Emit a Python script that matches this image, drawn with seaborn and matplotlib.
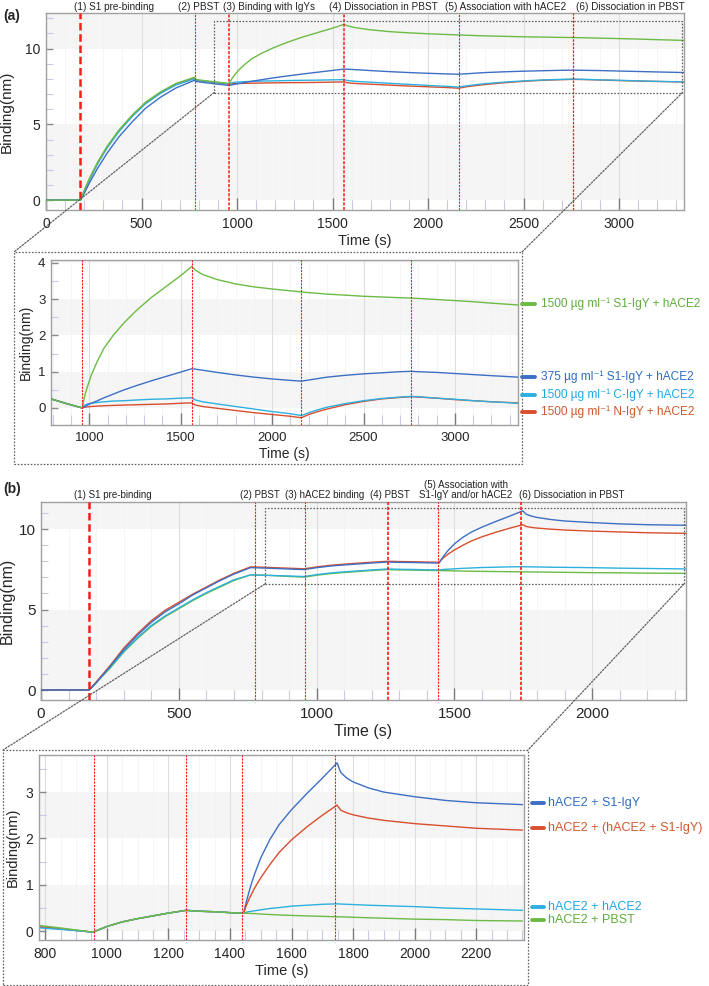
import numpy as np
import pandas as pd
import seaborn as sns
import matplotlib
matplotlib.use("Agg")
import matplotlib.pyplot as plt
from matplotlib.patches import Rectangle, ConnectionPatch
from matplotlib.lines import Line2D
from matplotlib.ticker import MultipleLocator

sns.set_theme(style="white")
plt.rcParams['font.family'] = ['Liberation Sans', 'DejaVu Sans']
NARROW = ['Liberation Sans Narrow', 'Liberation Sans', 'DejaVu Sans']

# ---------------- DATA : panel (a) ----------------
a_series = ["1500 µg ml⁻¹ S1-IgY + hACE2", "375 µg ml⁻¹ S1-IgY + hACE2",
            "1500 µg ml⁻¹ C-IgY + hACE2", "1500 µg ml⁻¹ N-IgY + hACE2"]
a_events = [180, 780, 960, 1560, 2160, 2760]
a_phase_labels = ["(1) S1 pre-binding", "(2) PBST", "(3) Binding with IgYs",
                  "(4) Dissociation in PBST", "(5) Association with hACE2",
                  "(6) Dissociation in PBST"]
a_phase_x = [357, 797, 1168, 1765, 2406, 3060]

# S1 pre-binding step (main plot only)
ta_pre = [0, 180, 200, 230, 270, 320, 380, 450, 520, 600, 680, 775]
a_pre_s1 = [0, 0, 0.65, 1.5, 2.5, 3.55, 4.6, 5.6, 6.45, 7.15, 7.7, 8.1]
a_pre_375 = [0, 0, 0.45, 1.2, 2.1, 3.1, 4.15, 5.15, 6.05, 6.8, 7.4, 7.9]
a_pre_c = [0, 0, 0.55, 1.4, 2.4, 3.45, 4.5, 5.5, 6.35, 7.05, 7.6, 8.0]
a_pre_n = [0, 0, 0.6, 1.45, 2.45, 3.5, 4.55, 5.55, 6.4, 7.1, 7.65, 8.05]

# aligned curves (inset), time points
ta_in = [790, 875, 960, 975, 990, 1010, 1040, 1080, 1130, 1190, 1260, 1340, 1420,
         1500, 1560, 1580, 1620, 1700, 1800, 1900, 2000, 2100, 2160, 2200, 2250,
         2300, 2400, 2500, 2600, 2700, 2760, 2800, 2900, 3000, 3100, 3200, 3345]
a_in_s1 = [0.25, 0.12, 0.0, 0.35, 0.6, 0.9, 1.25, 1.65, 2.0, 2.35, 2.7, 3.05, 3.35,
           3.65, 3.9, 3.8, 3.68, 3.54, 3.42, 3.34, 3.28, 3.23, 3.2, 3.18, 3.16,
           3.14, 3.11, 3.08, 3.06, 3.04, 3.03, 3.02, 2.99, 2.96, 2.93, 2.89, 2.84]
a_in_375 = [0.25, 0.12, 0.0, 0.04, 0.08, 0.13, 0.19, 0.28, 0.38, 0.5, 0.62, 0.75, 0.87,
            0.99, 1.08, 1.07, 1.04, 0.98, 0.91, 0.85, 0.8, 0.76, 0.74, 0.77, 0.81,
            0.85, 0.9, 0.94, 0.97, 1.0, 1.01, 1.0, 0.98, 0.95, 0.92, 0.89, 0.85]
a_in_c = [0.25, 0.12, 0.0, 0.08, 0.11, 0.13, 0.15, 0.17, 0.19, 0.2, 0.22, 0.24, 0.25,
          0.27, 0.28, 0.22, 0.17, 0.11, 0.04, -0.03, -0.1, -0.16, -0.21, -0.13, -0.05,
          0.02, 0.12, 0.2, 0.26, 0.3, 0.32, 0.31, 0.27, 0.24, 0.2, 0.17, 0.13]
a_in_n = [0.25, 0.12, 0.0, 0.02, 0.03, 0.04, 0.05, 0.06, 0.07, 0.08, 0.09, 0.1, 0.11,
          0.13, 0.14, 0.08, 0.04, -0.01, -0.07, -0.13, -0.18, -0.23, -0.27, -0.18, -0.1,
          -0.03, 0.09, 0.18, 0.25, 0.29, 0.31, 0.3, 0.27, 0.23, 0.2, 0.17, 0.14]
# level of each curve at the start of step (3) in the main plot
a_baseline = [7.7, 7.57, 7.67, 7.66]

# ---------------- DATA : panel (b) ----------------
b_series = ["hACE2 + S1-IgY", "hACE2 + (hACE2 + S1-IgY)", "hACE2 + hACE2", "hACE2 + PBST"]
b_events = [175, 778, 957, 1258, 1440, 1742]
b_phase_labels = ["(1) S1 pre-binding", "(2) PBST", "(3) hACE2 binding", "(4) PBST",
                  "(5) Association with\nS1-IgY and/or hACE2", "(6) Dissociation in PBST"]
b_phase_x = [261, 794, 1030, 1266, 1541, 1925]

tb_pre = [0, 175, 200, 250, 300, 350, 400, 450, 500, 550, 600, 650, 700, 760]
b_pre_s1 = [0, 0, 0.45, 1.45, 2.5, 3.4, 4.2, 4.85, 5.35, 5.9, 6.35, 6.8, 7.2, 7.6]
b_pre_mix = [0, 0, 0.5, 1.5, 2.6, 3.5, 4.3, 4.95, 5.45, 5.95, 6.4, 6.85, 7.25, 7.65]
b_pre_ace = [0, 0, 0.45, 1.4, 2.4, 3.25, 4.0, 4.6, 5.1, 5.6, 6.05, 6.45, 6.85, 7.15]
b_pre_pbst = [0, 0, 0.45, 1.35, 2.35, 3.2, 3.95, 4.55, 5.05, 5.55, 6.0, 6.4, 6.8, 7.15]

tb_in = [785, 850, 955, 1000, 1050, 1100, 1150, 1200, 1258, 1300, 1350, 1400, 1445,
         1450, 1460, 1470, 1480, 1500, 1530, 1560, 1600, 1650, 1700, 1748, 1760, 1780,
         1800, 1850, 1900, 2000, 2100, 2200, 2350]
b_in_s1 = [0.09, 0.05, -0.02, 0.1, 0.2, 0.27, 0.33, 0.39, 0.45, 0.43, 0.42, 0.4, 0.39,
           0.55, 0.8, 1.03, 1.23, 1.58, 1.98, 2.3, 2.62, 2.97, 3.3, 3.63, 3.42, 3.3,
           3.22, 3.09, 3.0, 2.9, 2.82, 2.77, 2.73]
b_in_mix = [0.09, 0.05, -0.02, 0.1, 0.2, 0.27, 0.33, 0.39, 0.45, 0.43, 0.42, 0.4, 0.39,
            0.5, 0.66, 0.8, 0.93, 1.15, 1.44, 1.7, 1.97, 2.25, 2.5, 2.72, 2.61, 2.55,
            2.51, 2.44, 2.39, 2.32, 2.27, 2.22, 2.18]
b_in_ace = [0.07, 0.04, -0.02, 0.1, 0.2, 0.27, 0.33, 0.39, 0.45, 0.43, 0.42, 0.4, 0.39,
            0.4, 0.42, 0.43, 0.44, 0.46, 0.49, 0.51, 0.54, 0.56, 0.58, 0.59, 0.585, 0.58,
            0.575, 0.56, 0.55, 0.53, 0.5, 0.48, 0.45]
b_in_pbst = [0.12, 0.07, -0.02, 0.1, 0.2, 0.27, 0.33, 0.39, 0.45, 0.43, 0.42, 0.4, 0.39,
             0.388, 0.385, 0.382, 0.38, 0.37, 0.36, 0.35, 0.34, 0.33, 0.32, 0.31, 0.31,
             0.305, 0.3, 0.29, 0.28, 0.26, 0.25, 0.23, 0.22]
b_baseline = [7.5, 7.55, 7.07, 7.03]

# ---------------- styling ----------------
a_colors = ["#6cbb45", "#3d6fc4", "#2db0df", "#d84e2e"]
a_text_colors = ["#5fae3c", "#2f6cc0", "#1fa8e3", "#cf5a2e"]
b_colors = ["#3d6fc4", "#d84e2e", "#2db0df", "#6cbb45"]
b_text_colors = ["#2f6cc0", "#cf5a2e", "#1fa8e3", "#5fae3c"]
DOT = (0, (1.3, 1.3))
GREY = "#606060"

W, H = 709, 986
fig = plt.figure(figsize=(W / 100, H / 100), dpi=100)


def add_ax(l, r, t, b):
    return fig.add_axes([l / W, 1 - b / H, (r - l) / W, (b - t) / H])


def fxy(x, y):
    return (x / W, 1 - y / H)


def long_df(t_lists, v_lists, names):
    rows = []
    for t, v, n in zip(t_lists, v_lists, names):
        rows.append(pd.DataFrame({"t": t, "v": v, "series": n}))
    return pd.concat(rows, ignore_index=True)


def style_ax(ax, xlim, ylim, xmaj, xmin, ymaj, ymin, band, fs):
    ax.set_xlim(*xlim)
    ax.set_ylim(*ylim)
    ax.set_facecolor("white")
    k = 0
    y0 = 0
    while y0 < ylim[1]:
        if k % 2 == 0:
            ax.axhspan(y0, min(y0 + band, ylim[1] + 1), color="#f5f5f5", zorder=0, lw=0)
        y0 += band
        k += 1
    ax.xaxis.set_major_locator(MultipleLocator(xmaj))
    ax.xaxis.set_minor_locator(MultipleLocator(xmin))
    ax.yaxis.set_major_locator(MultipleLocator(ymaj))
    ax.yaxis.set_minor_locator(MultipleLocator(ymin))
    ax.grid(True, which="major", axis="x", color="#dedede", lw=0.8, zorder=0.5)
    ax.grid(True, which="minor", axis="x", color="#f1f1f1", lw=0.5, zorder=0.5)
    ax.grid(False, axis="y")
    ax.tick_params(axis="x", which="major", direction="in", length=9, width=1.0,
                   color="#7a7a7a", labelsize=fs, pad=5, bottom=True)
    ax.tick_params(axis="x", which="minor", direction="in", length=7, width=0.8,
                   color="#c9c9e8", bottom=True)
    ax.tick_params(axis="y", which="major", direction="in", length=5, width=1.0,
                   color="#8a8a8a", labelsize=fs, pad=4, left=True)
    ax.tick_params(axis="y", which="minor", direction="in", length=5, width=0.8,
                   color="#c9c9e8", left=True)
    for s in ax.spines.values():
        s.set_color("#a0a0a0")
        s.set_linewidth(1.0)
    ax.set_axisbelow(True)


def draw_lines(ax, df, palette, order):
    sns.lineplot(data=df, x="t", y="v", hue="series", hue_order=order,
                 palette=palette, estimator=None, sort=False, legend=False,
                 lw=1.0, ax=ax, zorder=3)


def events(ax, xs, widths):
    for x, lw in zip(xs, widths):
        ls = (0, (3, 1.5)) if lw > 1.5 else (0, (2, 1))
        ax.axvline(x, color="#ff1a1a", ls=ls, lw=lw, zorder=4)


def legend_block(names, cols, tcols, ys, x0, x1, xt, fs):
    for name, col, tcol, y in zip(names, cols, tcols, ys):
        fig.add_artist(Line2D([x0 / W, x1 / W], [1 - y / H] * 2, color=col, lw=2.8,
                              transform=fig.transFigure))
        fig.text(xt / W, 1 - y / H, name, color=tcol, fontsize=fs, va="center",
                 ha="left")


# ---------------- panel (a) main ----------------
axA = add_ax(46, 684, 13, 210)
style_ax(axA, (0, 3340), (-0.65, 12.35), 500, 100, 5, 1, 5, 10)
a_main_vals = []
for pre, ins, base in zip([a_pre_s1, a_pre_375, a_pre_c, a_pre_n],
                          [a_in_s1, a_in_375, a_in_c, a_in_n], a_baseline):
    a_main_vals.append(list(pre) + [v + base for v in ins])
dfA = long_df([ta_pre + ta_in] * 4, a_main_vals, a_series)
draw_lines(axA, dfA, dict(zip(a_series, a_colors)), a_series[::-1])
events(axA, a_events, [1.8, 0.8, 1.1, 1.1, 0.8, 0.9])
axA.set_xlabel("Time (s)", fontsize=10.5, labelpad=2)
axA.set_ylabel("Binding(nm)", fontsize=11, labelpad=8)
for lab, x in zip(a_phase_labels, a_phase_x):
    axA.text(x, 1.006, lab, transform=axA.get_xaxis_transform(), ha="center",
             va="bottom", fontsize=7.2, family=NARROW, color="#222222")
axA.add_patch(Rectangle((880, 7.1), 3332 - 880, 11.8 - 7.1, fill=False, ls=DOT,
                        lw=0.9, ec=GREY, zorder=5))
fig.text(3 / W, 1 - 16 / H, "(a)", fontsize=10, fontweight="bold", va="center", ha="left")

# ---------------- panel (a) inset ----------------
axAi = add_ax(51, 518, 260, 425)
style_ax(axAi, (790, 3345), (-0.47, 4.08), 500, 100, 1, 0.5, 1, 9.5)
dfAi = long_df([ta_in] * 4, [a_in_s1, a_in_375, a_in_c, a_in_n], a_series)
draw_lines(axAi, dfAi, dict(zip(a_series, a_colors)), a_series[::-1])
events(axAi, a_events[2:], [0.8] * 4)
axAi.set_xlabel("Time (s)", fontsize=10, labelpad=2)
axAi.set_ylabel("Binding(nm)", fontsize=10, labelpad=4)
fig.add_artist(Rectangle(fxy(14, 464), (522 - 14) / W, (464 - 252) / H,
                         transform=fig.transFigure, fill=False, ls=DOT, lw=0.9, ec=GREY))
for xa, xb in [(880, 14), (3332, 522)]:
    fig.add_artist(ConnectionPatch(xyA=(xa, 7.1), coordsA=axA.transData,
                                   xyB=fxy(xb, 252), coordsB=fig.transFigure,
                                   ls=DOT, lw=0.9, color=GREY))
legend_block(a_series, a_colors, a_text_colors, [304, 377, 395, 412], 522, 535, 541, 8.6)

# ---------------- panel (b) main ----------------
axB = add_ax(41, 686, 502, 700)
style_ax(axB, (0, 2340), (-0.62, 11.68), 500, 100, 5, 1, 5, 11)
b_main_vals = []
for pre, ins, base in zip([b_pre_s1, b_pre_mix, b_pre_ace, b_pre_pbst],
                          [b_in_s1, b_in_mix, b_in_ace, b_in_pbst], b_baseline):
    b_main_vals.append(list(pre) + [v + base for v in ins])
dfB = long_df([tb_pre + tb_in] * 4, b_main_vals, b_series)
draw_lines(axB, dfB, dict(zip(b_series, b_colors)), b_series[::-1])
events(axB, b_events, [1.8, 0.8, 0.8, 1.2, 0.8, 1.2])
axB.set_xlabel("Time (s)", fontsize=11.5, labelpad=2)
axB.set_ylabel("Binding(nm)", fontsize=11.5, labelpad=3)
for lab, x in zip(b_phase_labels, b_phase_x):
    axB.text(x, 1.008, lab, transform=axB.get_xaxis_transform(), ha="center",
             va="bottom", fontsize=7.0, family=NARROW, color="#222222",
             linespacing=1.0)
axB.add_patch(Rectangle((812, 6.58), 2332 - 812, 11.3 - 6.58, fill=False, ls=DOT,
                        lw=0.9, ec=GREY, zorder=5))
fig.text(3 / W, 1 - 489 / H, "(b)", fontsize=10, fontweight="bold", va="center", ha="left")

# ---------------- panel (b) inset ----------------
axBi = add_ax(39, 524, 755, 940)
style_ax(axBi, (780, 2355), (-0.19, 3.8), 200, 50, 1, 0.5, 1, 10)
dfBi = long_df([tb_in] * 4, [b_in_s1, b_in_mix, b_in_ace, b_in_pbst], b_series)
draw_lines(axBi, dfBi, dict(zip(b_series, b_colors)), b_series)
events(axBi, b_events[2:], [0.8] * 4)
axBi.set_xlabel("Time (s)", fontsize=10.5, labelpad=2)
axBi.set_ylabel("Binding(nm)", fontsize=10.5, labelpad=4)
fig.add_artist(Rectangle(fxy(3, 985), (528 - 3) / W, (985 - 750) / H,
                         transform=fig.transFigure, fill=False, ls=DOT, lw=0.9, ec=GREY))
for xa, xb in [(812, 3), (2332, 528)]:
    fig.add_artist(ConnectionPatch(xyA=(xa, 6.58), coordsA=axB.transData,
                                   xyB=fxy(xb, 750), coordsB=fig.transFigure,
                                   ls=DOT, lw=0.9, color=GREY))
legend_block(b_series, b_colors, b_text_colors, [803, 828, 907, 920], 532, 544, 548, 9.0)

fig.savefig("out.png", dpi=100)
